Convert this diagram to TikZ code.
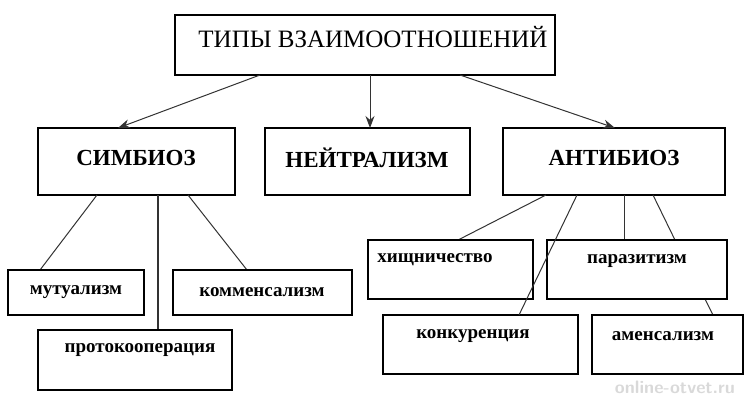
\documentclass[tikz,border=0pt]{standalone}
\usepackage{fontspec}
\setmainfont{Liberation Serif}
\usetikzlibrary{arrows.meta}
\begin{document}
\begin{tikzpicture}[x=1pt,y=-1pt,
 box/.style={draw,line width=1.4pt,fill=white},
 ln/.style={line width=1pt,draw=black!80},
 arr/.style={ln,-{Stealth[length=12pt,width=9pt]}},
 big/.style={font=\fontsize{25}{27}\selectfont},
 mid/.style={font=\bfseries\fontsize{23}{25}\selectfont},
 sm/.style={font=\bfseries\fontsize{19}{21}\selectfont}]
\useasboundingbox (0,0) rectangle (750,400);
\draw[box] (175,15) rectangle (555,75);
\node[big] (top) at (373,37) {ТИПЫ ВЗАИМООТНОШЕНИЙ};
\draw[box] (38,128) rectangle (235,195);
\node[mid] (sim) at (136,158) {СИМБИОЗ};
\draw[box] (265,128) rectangle (470,195);
\node[mid] (nei) at (367,158) {НЕЙТРАЛИЗМ};
\draw[box] (503,128) rectangle (725,195);
\node[mid] (ant) at (614,158) {АНТИБИОЗ};
% connectors
\coordinate (t1) at (260,75); \coordinate (s0) at (118,128);
\coordinate (t2) at (370,75); \coordinate (n0) at (370,128);
\coordinate (t3) at (460,75); \coordinate (a0) at (615,128);
\draw[arr] (t1) -- (s0);
\draw[arr] (t2) -- (n0);
\draw[arr] (t3) -- (a0);
\coordinate (s1) at (97,195); \coordinate (m0) at (40,270);
\coordinate (s2) at (158,195); \coordinate (p0) at (158,330);
\coordinate (s3) at (188,195); \coordinate (k0) at (247,270);
\draw[ln] (s1) -- (m0);
\draw[ln,line width=1.4pt] (s2) -- (p0);
\draw[ln] (s3) -- (k0);
\coordinate (a1) at (546,195); \coordinate (h0) at (458,240);
\coordinate (a3) at (624,195); \coordinate (pz0) at (624,240);
\coordinate (a4) at (653,195); \coordinate (pz1) at (675,240);
\coordinate (pz2) at (705,299); \coordinate (am0) at (713,315);
\draw[ln] (a1) -- (h0);
\draw[ln] (a3) -- (pz0);
\draw[ln] (a4) -- (pz1);
\draw[ln] (pz2) -- (am0);
% bottom boxes
\draw[box] (8,270) rectangle (144,315);
\node[sm] (mut) at (76,292) {мутуализм};
\draw[box] (173,270) rectangle (352,315);
\node[sm] (kom) at (262,292) {комменсализм};
\draw[box] (38,330) rectangle (232,390);
\node[sm] (pro) at (140,350) {протокооперация};
\draw[box] (368,240) rectangle (533,299);
\node[sm] (hi) at (435,260) {хищничество};
\draw[box] (547,240) rectangle (727,299);
\node[sm] (par) at (637,261) {паразитизм};
\draw[box] (383,315) rectangle (578,374);
\node[sm] (kon) at (473,336) {конкуренция};
\draw[box] (592,315) rectangle (743,374);
\node[sm] (ame) at (663,336) {аменсализм};
\coordinate (a2) at (577,195); \coordinate (ko0) at (519,315);
\draw[ln] (a2) -- (ko0);
\node[font=\bfseries\fontsize{18}{20}\selectfont\sffamily,text=black!15] (wm) at (675,387) {online-otvet.ru};
\end{tikzpicture}
\end{document}
